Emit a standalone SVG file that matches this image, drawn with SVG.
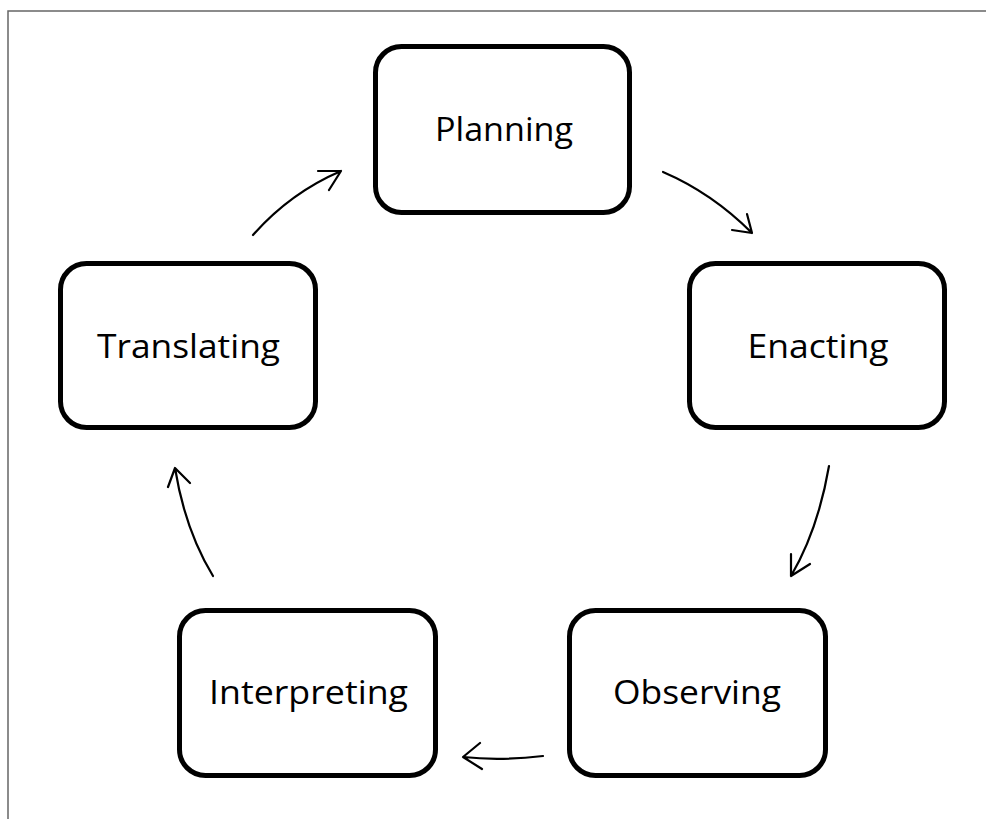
<svg xmlns="http://www.w3.org/2000/svg" width="986" height="819" viewBox="0 0 986 819">
  <defs>
    <style>
      .box { fill: #ffffff; stroke: #000000; stroke-width: 5; }
      .label { font-family: "Open Sans", "Noto Sans", "Liberation Sans", sans-serif; font-size: 33px; fill: #000000; text-anchor: middle; }
      .conn { fill: none; stroke: #000000; stroke-width: 2.2; stroke-linecap: round; stroke-linejoin: round; }
      .frame { fill: none; stroke: #666666; stroke-width: 1.5; }
    </style>
  </defs>
  <rect x="0" y="0" width="986" height="819" fill="#ffffff"/>
  <path class="frame" d="M8,819 L8,11 L986,11"/>

  <g id="planning">
    <rect class="box" x="375.5" y="46.5" width="254" height="166" rx="26" ry="26"/>
    <text class="label" x="504" y="141" textLength="138" lengthAdjust="spacingAndGlyphs">Planning</text>
  </g>
  <g id="enacting">
    <rect class="box" x="689.5" y="263.5" width="255" height="164" rx="26" ry="26"/>
    <text class="label" x="818" y="358" textLength="141" lengthAdjust="spacingAndGlyphs">Enacting</text>
  </g>
  <g id="translating">
    <rect class="box" x="60.5" y="263.5" width="255" height="164" rx="26" ry="26"/>
    <text class="label" x="188.5" y="358" textLength="183" lengthAdjust="spacingAndGlyphs">Translating</text>
  </g>
  <g id="interpreting">
    <rect class="box" x="179.5" y="610.5" width="256" height="165" rx="26" ry="26"/>
    <text class="label" x="308.5" y="704" textLength="199" lengthAdjust="spacingAndGlyphs">Interpreting</text>
  </g>
  <g id="observing">
    <rect class="box" x="569.5" y="610.5" width="256" height="165" rx="26" ry="26"/>
    <text class="label" x="697" y="704" textLength="168" lengthAdjust="spacingAndGlyphs">Observing</text>
  </g>

  <g id="connectors">
    <path class="conn" d="M663,172 Q712,193 752,233 M747,214 L752,233 L732,230"/>
    <path class="conn" d="M829,466 Q818,530 791,576 M791,554 L791,576 L810,564"/>
    <path class="conn" d="M543,756 Q500,761 463,757 M480,743 L463,757 L482,769"/>
    <path class="conn" d="M213,576 Q185,530 175,468 M168,487 L175,468 L190,483"/>
    <path class="conn" d="M253,235 Q290,193 341,171 M318,171 L341,171 L329,190"/>
  </g>
</svg>
